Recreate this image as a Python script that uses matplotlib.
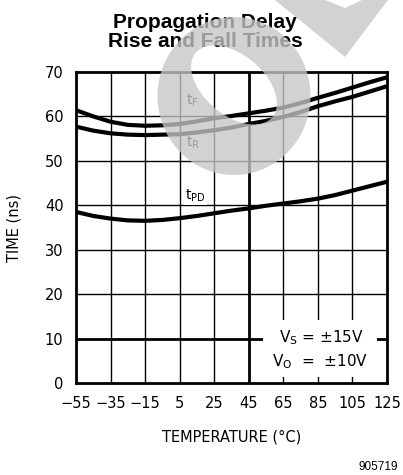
import matplotlib
matplotlib.use("Agg")
import matplotlib.pyplot as plt
import numpy as np
from matplotlib.patches import PathPatch, Rectangle, Polygon
from matplotlib.path import Path

# values (temperature in C, time in ns)
temp = [-55, -45, -35, -25, -15, -5, 5, 15, 25, 35, 45, 55, 65, 75, 85, 95, 105, 115, 125]
t_fall = [61.4, 60.0, 58.8, 58.1, 57.9, 58.0, 58.3, 58.9, 59.6, 60.1, 60.7, 61.3, 62.0,
          63.0, 64.2, 65.3, 66.5, 67.7, 68.8]
t_rise = [57.7, 56.8, 56.2, 55.9, 55.8, 55.9, 56.0, 56.4, 56.9, 57.5, 58.3, 59.0, 59.9,
          61.0, 62.3, 63.4, 64.4, 65.6, 66.8]
t_pd = [38.5, 37.6, 37.0, 36.6, 36.5, 36.7, 37.1, 37.6, 38.2, 38.8, 39.3, 39.9, 40.4,
        40.9, 41.5, 42.3, 43.3, 44.3, 45.3]

xticks = [-55, -35, -15, 5, 25, 45, 65, 85, 105, 125]
yticks = [0, 10, 20, 30, 40, 50, 60, 70]

W, H = 403, 475
fig = plt.figure(figsize=(W / 100, H / 100), dpi=100)
ax = fig.add_axes([76 / W, 1 - 383 / H, (387 - 76) / W, (383 - 72) / H])
ax.set_xlim(-55, 125)
ax.set_ylim(0, 70)

# grid, with the 45 C and 10 ns lines heavier
for x in xticks[1:-1]:
    ax.axvline(x, color="black", lw=2.0 if x == 45 else 1.0, zorder=1)
for y in yticks[1:-1]:
    ax.axhline(y, color="black", lw=2.0 if y == 10 else 1.0, zorder=1)

ax.plot(temp, t_fall, color="black", lw=3, solid_capstyle="butt", zorder=3)
ax.plot(temp, t_rise, color="black", lw=3, solid_capstyle="butt", zorder=3)
ax.plot(temp, t_pd, color="black", lw=3, solid_capstyle="butt", zorder=3)

lbl = dict(fontsize=10, family="DejaVu Sans", zorder=4)
ax.text(12.5, 63.5, r"t$_\mathregular{F}$", ha="center", va="center", **lbl)
ax.text(12.5, 54.0, r"t$_\mathregular{R}$", ha="center", va="center", **lbl)
ax.text(14, 40.3, r"t$_\mathregular{PD}$", ha="center", va="bottom",
        bbox=dict(facecolor="white", edgecolor="none", pad=1), **lbl)

# white box holding the test conditions
ax.add_patch(Rectangle((53, 1.3), 66, 12.9, facecolor="white", edgecolor="none", zorder=2))
ax.text(87, 10.2, r"V$_\mathregular{S}$ = $\pm$15V", ha="center", va="center", fontsize=11, zorder=4)
ax.text(86, 4.8, r"V$_\mathregular{O}$  =  $\pm$10V", ha="center", va="center", fontsize=11, zorder=4)

for s in ax.spines.values():
    s.set_linewidth(2)
ax.set_xticks(xticks)
ax.set_yticks(yticks)
ax.set_xticklabels([str(v).replace("-", "\u2212") for v in xticks])
ax.tick_params(length=0, labelsize=10.5, pad=9)
ax.set_xlabel("TEMPERATURE (\u00b0C)", fontsize=10.5, labelpad=14)
ax.set_ylabel("TIME (ns)", fontsize=10.5, labelpad=17)

fig.text(205 / W, 1 - 32 / H, "Propagation Delay\nRise and Fall Times", ha="center", va="center",
         fontsize=15, fontweight="bold", family="Liberation Sans", linespacing=1.05)
fig.text(398 / W, 1 - 467 / H, "905719", ha="right", va="center", fontsize=8.5,
         family="Liberation Sans")


# grey watermark drawn on top (pixel coords, y downwards)
def ellipse(cx, cy, w, h, ang, reverse=False):
    t = np.linspace(0, 2 * np.pi, 120)
    if reverse:
        t = t[::-1]
    a = np.deg2rad(ang)
    px = cx + w / 2 * np.cos(t) * np.cos(a) - h / 2 * np.sin(t) * np.sin(a)
    py = cy + w / 2 * np.cos(t) * np.sin(a) + h / 2 * np.sin(t) * np.cos(a)
    return np.column_stack([px / W, 1 - py / H])


outer = ellipse(234, 96, 153, 158, 0)
inner = ellipse(234, 85, 100, 60, 40, reverse=True)
verts = np.vstack([outer, inner])
codes = ([Path.MOVETO] + [Path.LINETO] * (len(outer) - 2) + [Path.CLOSEPOLY]) * 2
ring = PathPatch(Path(verts, codes), transform=fig.transFigure, facecolor="#c6c6c6",
                 edgecolor="none", alpha=0.78, zorder=10)
fig.add_artist(ring)

chev = np.array([(275, 0), (345, 57), (388, 0), (362, 0), (345, 8), (325, 0)], dtype=float)
chev[:, 0] /= W
chev[:, 1] = 1 - chev[:, 1] / H
fig.add_artist(Polygon(chev, closed=True, transform=fig.transFigure, facecolor="#c6c6c6",
                       edgecolor="none", alpha=0.78, zorder=10))

fig.savefig("out.png", dpi=100)
